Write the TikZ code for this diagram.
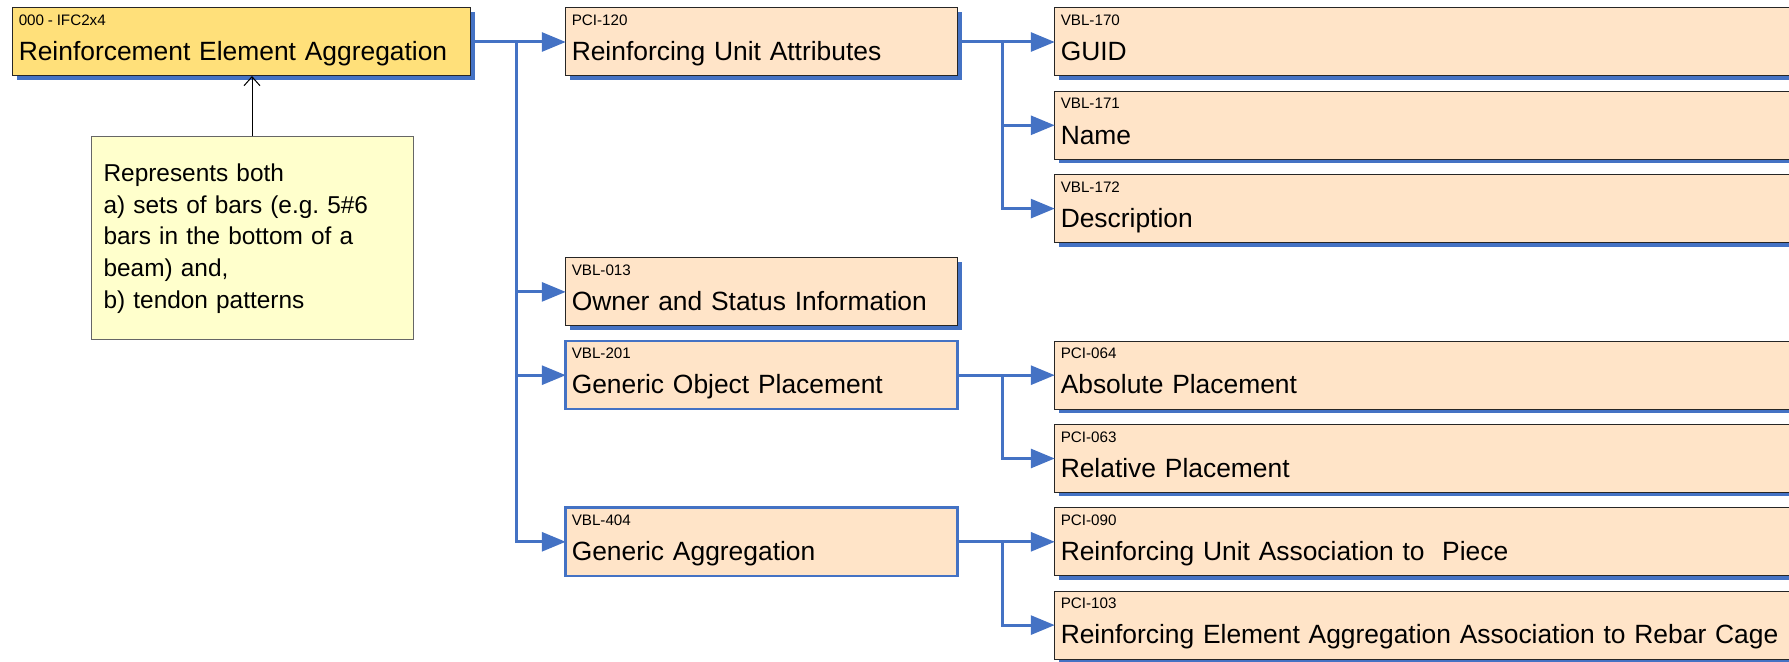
\documentclass[tikz,border=0pt]{standalone}
\usepackage{fontspec}
\setmainfont{Liberation Sans}
\usepackage{tikz}
\usetikzlibrary{positioning,shadows,arrows.meta}

\definecolor{linkblue}{RGB}{68,114,196}
\definecolor{peach}{RGB}{255,228,200}
\definecolor{gold}{RGB}{255,224,122}
\definecolor{notepaper}{RGB}{255,255,204}

\newcommand{\entityid}[1]{\mbox{\fontsize{7.6}{9}\selectfont\spaceskip=0.25em\relax #1}}

\begin{document}
\begin{tikzpicture}[
    font=\fontsize{13.2}{17.6}\selectfont,
    >={Triangle[length=12pt,width=9.5pt]},
    entity/.style={
		rectangle,
		draw=black!85,
		line width=0.5pt,
		fill=peach,
		align=left,
		inner xsep=3pt,
		inner ysep=0pt,
		outer sep=0pt,
		text height=8.8pt,
		text depth=25.2pt,
		minimum height=34pt
	},
	shadowed/.style={
		drop shadow={shadow xshift=2pt,shadow yshift=-2pt,fill=linkblue,opacity=1}
	},
	topbox/.style={entity, shadowed, fill=gold, text width=223pt},
	midbox/.style={entity, shadowed, text width=190pt},
	leafbox/.style={entity, shadowed, text width=366.5pt},
	groupbox/.style={entity, draw=linkblue, line width=1.3pt, text width=190pt},
	note/.style={
		rectangle,
		draw=black!60,
		line width=0.5pt,
		fill=notepaper,
		align=left,
		text width=148.4pt,
		inner xsep=6.3pt,
		minimum height=101.5pt,
		font=\fontsize{12.2}{15.8}\selectfont
	},
	flow/.style={->, draw=linkblue, line width=1.5pt},
	notelink/.style={-{Straight Barb[length=4.5pt,width=8pt]}, draw=black, line width=0.5pt}
  ]

 \useasboundingbox (0,0) rectangle (894.5pt,-331pt);

 % // root entity
 \node [topbox] (root) at (120.875pt,-21pt)
 {\entityid{000 - IFC2x4}\\Reinforcement Element Aggregation};

 \node [note] (remark) at (126pt,-119.25pt)
 {Represents both\\
  a) sets of bars (e.g.\ 5\#6\\
  bars in the bottom of a\\
  beam) and,\\
  b) tendon patterns};
 \draw [notelink] (remark.north) -- (remark.north |- root.south);

 % // middle column
 \node [midbox, right=47.5pt of root] (pci120)
 {\entityid{PCI-120}\\Reinforcing Unit Attributes};
 \node [midbox, below=90.95pt of pci120] (vbl013)
 {\entityid{VBL-013}\\Owner and Status Information};
 \node [groupbox, below=7.65pt of vbl013] (vbl201)
 {\entityid{VBL-201}\\Generic Object Placement};
 \node [groupbox, below=49.3pt of vbl201] (vbl404)
 {\entityid{VBL-404}\\Generic Aggregation};

 % // right column
 \node [leafbox, right=48.5pt of pci120] (vbl170)
 {\entityid{VBL-170}\\GUID};
 \node [leafbox, below=7.65pt of vbl170] (vbl171)
 {\entityid{VBL-171}\\Name};
 \node [leafbox, below=7.65pt of vbl171] (vbl172)
 {\entityid{VBL-172}\\Description};
 \node [leafbox, right=48.5pt of vbl201] (pci064)
 {\entityid{PCI-064}\\Absolute Placement};
 \node [leafbox, below=7.65pt of pci064] (pci063)
 {\entityid{PCI-063}\\Relative Placement};
 \node [leafbox, right=48.5pt of vbl404] (pci090)
 {\entityid{PCI-090}\\Reinforcing Unit Association to\ \ Piece};
 \node [leafbox, below=7.65pt of pci090] (pci103)
 {\entityid{PCI-103}\\Reinforcing Element Aggregation Association to Rebar Cage};

 % // forks
 \coordinate [right=23pt of root.east] (fork1);
 \coordinate [right=22.5pt of pci120.east] (fork2);
 \coordinate [right=22.5pt of vbl201.east] (fork3);
 \coordinate [right=22.5pt of vbl404.east] (fork4);

 \draw [flow] (root.east) -- (fork1) |- (pci120.west);
 \draw [flow] (root.east) -- (fork1) |- (vbl013.west);
 \draw [flow] (root.east) -- (fork1) |- (vbl201.west);
 \draw [flow] (root.east) -- (fork1) |- (vbl404.west);

 \draw [flow] (pci120.east) -- (fork2) |- (vbl170.west);
 \draw [flow] (pci120.east) -- (fork2) |- (vbl171.west);
 \draw [flow] (pci120.east) -- (fork2) |- (vbl172.west);

 \draw [flow] (vbl201.east) -- (fork3) |- (pci064.west);
 \draw [flow] (vbl201.east) -- (fork3) |- (pci063.west);

 \draw [flow] (vbl404.east) -- (fork4) |- (pci090.west);
 \draw [flow] (vbl404.east) -- (fork4) |- (pci103.west);

\end{tikzpicture}
\end{document}
